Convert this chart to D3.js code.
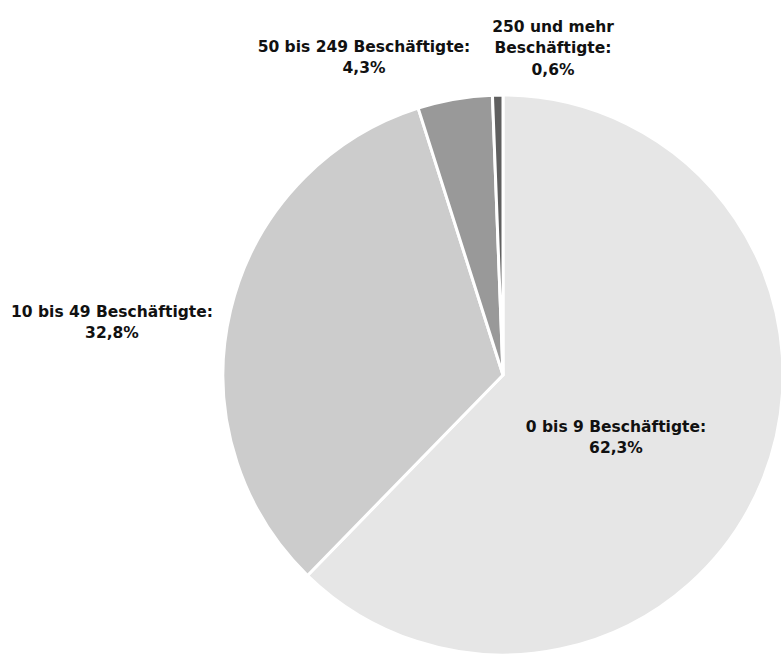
<!DOCTYPE html>
<html><head><meta charset="utf-8">
<script src="https://cdn.jsdelivr.net/npm/d3@7"></script>
<style>body{margin:0;background:#fff;} svg{display:block;}</style>
</head><body>
<svg id="c" width="781" height="654"></svg>
<script>
const categories = ["0 bis 9 Beschäftigte:", "10 bis 49 Beschäftigte:", "50 bis 249 Beschäftigte:", "250 und mehr Beschäftigte:"];
const values = [62.3, 32.8, 4.3, 0.6];
const valueLabels = ["62,3%", "32,8%", "4,3%", "0,6%"];
const labelLines = [["0 bis 9 Beschäftigte:"], ["10 bis 49 Beschäftigte:"], ["50 bis 249 Beschäftigte:"], ["250 und mehr", "Beschäftigte:"]];
const colors = ["#e6e6e6", "#cccccc", "#999999", "#5f5f5f"];
const labelPos = [[616, 426], [112, 311], [364, 46], [553, 26]];

const svg = d3.select("#c");
const cx = 503, cy = 375, r = 280;
const pie = d3.pie().sort(null).value(d => d)(values);
const arc = d3.arc().innerRadius(0).outerRadius(r);
const g = svg.append("g").attr("transform", `translate(${cx},${cy})`);
g.selectAll("path").data(pie).join("path")
  .attr("d", arc).attr("fill", (d, i) => colors[i])
  .attr("stroke", "#fff").attr("stroke-width", 3).attr("stroke-linejoin", "round");

const lg = svg.append("g").attr("font-family", "'DejaVu Sans', Verdana, sans-serif")
  .attr("font-size", 15.5).attr("font-weight", "bold").attr("fill", "#111").attr("text-anchor", "middle");
categories.forEach((c, i) => {
  const lines = labelLines[i].concat([valueLabels[i]]);
  const t = lg.append("text").attr("x", labelPos[i][0]).attr("y", labelPos[i][1] + 5.5);
  lines.forEach((l, j) => t.append("tspan").attr("x", labelPos[i][0]).attr("dy", j === 0 ? 0 : 21.5).text(l));
});
</script>
</body></html>
